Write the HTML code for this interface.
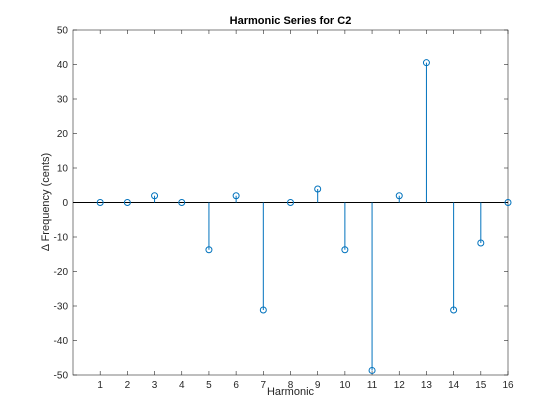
<!DOCTYPE html>
<html><head><meta charset="utf-8"><style>
body{margin:0;background:#fff;width:560px;height:420px;overflow:hidden}
svg{display:block;font-family:"Liberation Sans",sans-serif}
</style></head><body>
<svg id="chart" width="560" height="420">
<rect x="0" y="0" width="560" height="420" fill="#fff"/>
<g id="g"></g>
</svg>
<script>
const harmonics=[1,2,3,4,5,6,7,8,9,10,11,12,13,14,15,16];
const cents=[0,0,1.96,0,-13.69,1.96,-31.17,0,3.91,-13.69,-48.68,1.96,40.53,-31.17,-11.73,0];
const xTicks=[1,2,3,4,5,6,7,8,9,10,11,12,13,14,15,16];
const yTicks=[-50,-40,-30,-20,-10,0,10,20,30,40,50];
const L=73,R=508,T=30,B=375;
const xs=v=>L+(v-0)/(16-0)*(R-L);
const ys=v=>B-(v+50)/100*(B-T);
const g=document.getElementById('g');
const NS='http://www.w3.org/2000/svg';
function mk(t,a,txt){const e=document.createElementNS(NS,t);for(const k in a)e.setAttribute(k,a[k]);if(txt!==undefined)e.textContent=txt;g.appendChild(e);return e;}
let e=mk('rect',{x:L,y:T,width:R-L,height:B-T,fill:'#fff',stroke:'#262626','stroke-width':0.6});


xTicks.forEach(v=>{
 let t=mk('line',{x1:xs(v),x2:xs(v),y1:B,y2:B-4,stroke:'#262626','stroke-width':0.6});
 
 
 t=mk('line',{x1:xs(v),x2:xs(v),y1:T,y2:T+4,stroke:'#262626','stroke-width':0.6});
 
 
 let l=mk('text',{x:xs(v),y:B+13,'font-size':10,'text-anchor':'middle',fill:'#262626'},v);
 
 
});
yTicks.forEach(v=>{
 let t=mk('line',{x1:L,x2:L+4,y1:ys(v),y2:ys(v),stroke:'#262626','stroke-width':0.6});
 
 
 t=mk('line',{x1:R,x2:R-4,y1:ys(v),y2:ys(v),stroke:'#262626','stroke-width':0.6});
 
 
 let l=mk('text',{x:L-5,y:ys(v)+3.5,'font-size':10,'text-anchor':'end',fill:'#262626'},v);
 
 
});
e=mk('line',{x1:L,x2:R,y1:ys(0),y2:ys(0),stroke:'#000','stroke-width':1});


harmonics.forEach((h,i)=>{
 let s=mk('line',{x1:xs(h),x2:xs(h),y1:ys(0),y2:ys(cents[i]),stroke:'#0072bd','stroke-width':1});
 
 
 let c=mk('circle',{cx:xs(h),cy:ys(cents[i]),r:3,fill:'none',stroke:'#0072bd','stroke-width':1});
 
 
});
e=mk('text',{x:(L+R)/2,y:24,'font-size':11,'font-weight':'bold','text-anchor':'middle',fill:'#000'},'Harmonic Series for C2');


e=mk('text',{x:(L+R)/2,y:395,'font-size':11,'text-anchor':'middle',fill:'#262626'},'Harmonic');


e=mk('text',{x:0,y:0,'font-size':11,'text-anchor':'middle',fill:'#262626',transform:'translate(49,202) rotate(-90)'},'Δ Frequency (cents)');


</script>
</body></html>
